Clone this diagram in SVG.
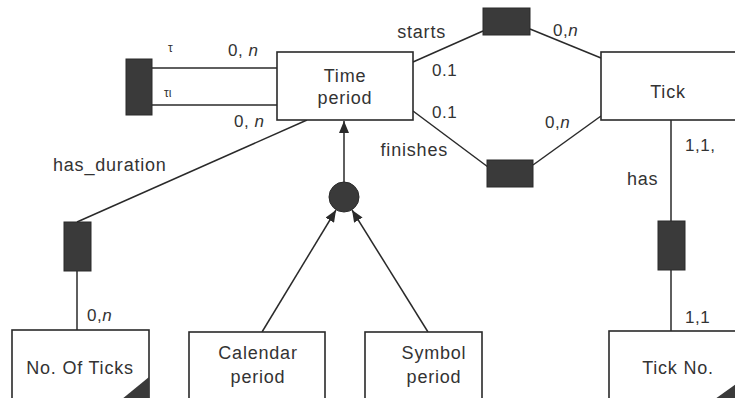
<svg xmlns="http://www.w3.org/2000/svg" width="735" height="398" viewBox="0 0 735 398">
  <style>
    .box { fill: #ffffff; stroke: #2a2a2a; stroke-width: 1.6; }
    .rel { fill: #3a3a3a; stroke: #2a2a2a; stroke-width: 1; }
    .corner { fill: #3a3a3a; }
    .ln { fill: none; stroke: #2a2a2a; stroke-width: 1.5; }
    text { font-family: "Liberation Sans", Arial, sans-serif; font-size: 18px; fill: #333333; letter-spacing: 0.8px; }
    .lab { text-anchor: middle; }
    .card { font-size: 17px; letter-spacing: 0.5px; }
    .small { font-size: 12px; letter-spacing: 0; }
  </style>
  <defs>
    <marker id="arrow" viewBox="0 0 12 10" refX="12" refY="5" markerWidth="12" markerHeight="10" markerUnits="userSpaceOnUse" orient="auto">
      <path d="M0,0 L12,5 L0,10 z" fill="#2a2a2a"/>
    </marker>
  </defs>

  <rect width="735" height="398" fill="#ffffff"/>

  <!-- connectors -->
  <g id="connectors">
    <line class="ln" x1="152" y1="68" x2="277" y2="68"/>
    <line class="ln" x1="152" y1="105" x2="277" y2="105"/>
    <line class="ln" x1="413" y1="62" x2="483" y2="31"/>
    <line class="ln" x1="530" y1="29" x2="601" y2="58"/>
    <line class="ln" x1="413" y1="111" x2="488" y2="167"/>
    <line class="ln" x1="533" y1="165" x2="601" y2="116"/>
    <line class="ln" x1="77" y1="222" x2="307" y2="120"/>
    <line class="ln" x1="77" y1="271" x2="77" y2="330"/>
    <line class="ln" x1="671" y1="120" x2="671" y2="221"/>
    <line class="ln" x1="671" y1="270" x2="671" y2="331"/>
    <line class="ln" x1="344" y1="182" x2="344" y2="121" marker-end="url(#arrow)"/>
    <line class="ln" x1="262" y1="332" x2="336" y2="210" marker-end="url(#arrow)"/>
    <line class="ln" x1="428" y1="332" x2="352" y2="210" marker-end="url(#arrow)"/>
  </g>

  <!-- relationship markers -->
  <g id="rel-period-self">
    <rect class="rel" x="126" y="59" width="26" height="56"/>
  </g>
  <g id="rel-starts">
    <rect class="rel" x="483" y="8" width="47" height="27"/>
  </g>
  <g id="rel-finishes">
    <rect class="rel" x="487" y="160" width="46" height="27"/>
  </g>
  <g id="rel-has-duration">
    <rect class="rel" x="64" y="222" width="27" height="49"/>
  </g>
  <g id="rel-has">
    <rect class="rel" x="658" y="221" width="27" height="49"/>
  </g>
  <g id="subtype-join">
    <circle cx="344" cy="197" r="15" fill="#3a3a3a" stroke="#2a2a2a" stroke-width="1"/>
  </g>

  <!-- entities -->
  <g id="time-period">
    <rect class="box" x="277" y="52" width="136" height="68"/>
    <text class="lab" x="345" y="82">Time</text>
    <text class="lab" x="345" y="104">period</text>
  </g>
  <g id="tick">
    <rect class="box" x="601" y="52" width="145" height="68"/>
    <text class="lab" x="668" y="98">Tick</text>
  </g>
  <g id="no-of-ticks">
    <rect class="box" x="12" y="330" width="137" height="74"/>
    <polygon class="corner" points="149,377 149,404 116,404"/>
    <text class="lab" x="80" y="374">No. Of Ticks</text>
  </g>
  <g id="calendar-period">
    <rect class="box" x="189" y="332" width="136" height="72"/>
    <text class="lab" x="258" y="359">Calendar</text>
    <text class="lab" x="258" y="383">period</text>
  </g>
  <g id="symbol-period">
    <rect class="box" x="365" y="332" width="117" height="72"/>
    <text class="lab" x="434" y="359">Symbol</text>
    <text class="lab" x="434" y="383">period</text>
  </g>
  <g id="tick-no">
    <rect class="box" x="609" y="331" width="137" height="73"/>
    <polygon class="corner" points="746,377 746,404 708,404"/>
    <text class="lab" x="678" y="374">Tick No.</text>
  </g>

  <!-- relationship names and cardinalities -->
  <g id="labels">
    <text x="446" y="38" text-anchor="end">starts</text>
    <text x="448" y="156" text-anchor="end">finishes</text>
    <text x="53" y="171">has_duration</text>
    <text x="627" y="185">has</text>
    <text class="small" x="168" y="52">τ</text>
    <text class="small" x="164" y="97">τι</text>
    <text class="card" x="228" y="56">0, <tspan font-style="italic">n</tspan></text>
    <text class="card" x="234" y="127">0, <tspan font-style="italic">n</tspan></text>
    <text class="card" x="432" y="76">0.1</text>
    <text class="card" x="432" y="118">0.1</text>
    <text class="card" x="553" y="36">0,<tspan font-style="italic">n</tspan></text>
    <text class="card" x="545" y="128">0,<tspan font-style="italic">n</tspan></text>
    <text class="card" x="685" y="151">1,1,</text>
    <text class="card" x="685" y="323">1,1</text>
    <text class="card" x="87" y="321">0,<tspan font-style="italic">n</tspan></text>
  </g>
</svg>
